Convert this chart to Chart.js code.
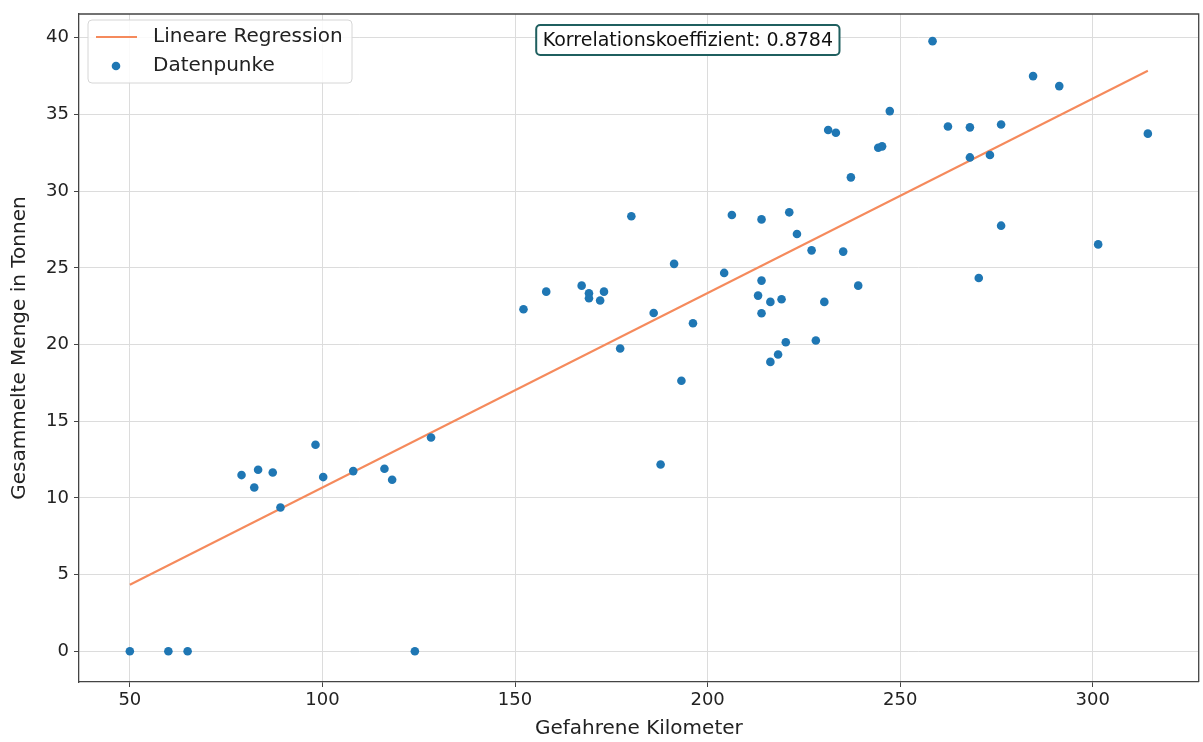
<!DOCTYPE html>
<html>
<head>
<meta charset="utf-8">
<script src="https://cdn.jsdelivr.net/npm/chart.js@4/dist/chart.umd.min.js"></script>
<style>
  html, body { margin: 0; padding: 0; background: #ffffff; }
  #wrap { width: 1203px; height: 742px; }
</style>
</head>
<body>
<div id="wrap"><canvas id="c" width="1203" height="742"></canvas></div>
<script>
// Gefahrene Kilometer (x) and Gesammelte Menge in Tonnen (y)
const kilometers = [
  50, 60, 65, 124,
  79, 82.3, 83.3, 87.1, 89.1, 98.2, 100.2, 108, 116.1, 118.1, 128.2,
  152.2, 158.1, 167.3, 169.2, 169.2, 172.1, 173.1, 177.3, 180.2, 186, 187.8,
  191.3, 193.2, 196.2, 204.3, 206.3, 214, 214, 213.1, 216.3, 219.2, 214,
  221.2, 223.2, 227, 235.2, 239.1, 230.3, 220.3, 228.1, 218.3, 216.3, 237.2,
  258.4, 284.5, 291.3, 247.3, 231.3, 233.3, 262.4, 268.1, 276.2, 314.3,
  244.3, 245.3, 268.1, 273.3, 276.2, 301.4, 270.4
];
const tonnes = [
  0, 0, 0, 0,
  11.49, 10.68, 11.84, 11.66, 9.38, 13.47, 11.36, 11.75, 11.9, 11.19, 13.94,
  22.3, 23.45, 23.84, 23.34, 23.02, 22.87, 23.45, 19.74, 28.36, 22.06, 12.18,
  25.26, 17.64, 21.39, 24.67, 28.45, 28.16, 24.17, 23.19, 22.78, 22.95, 22.04,
  28.62, 27.21, 26.14, 26.06, 23.84, 22.78, 20.15, 20.26, 19.35, 18.87, 30.9,
  39.78, 37.5, 36.85, 35.22, 33.99, 33.81, 34.22, 34.16, 34.35, 33.75,
  32.83, 32.92, 32.2, 32.36, 27.75, 26.53, 24.34
];
// Regression line endpoints
const regressionX = [50, 314.3];
const regressionY = [4.34, 37.85];

const xTicks = [50, 100, 150, 200, 250, 300];
const yTicks = [0, 5, 10, 15, 20, 25, 30, 35, 40];

const seriesLabels = ['Lineare Regression', 'Datenpunke'];
const correlationText = 'Korrelationskoeffizient: 0.8784';
const xTitle = 'Gefahrene Kilometer';
const yTitle = 'Gesammelte Menge in Tonnen';

const pointColor = '#1f77b4';
const lineColor = '#f58a5c';
const FONT = "'DejaVu Sans', sans-serif";

const pointData = kilometers.map((x, i) => ({ x: x, y: tonnes[i] }));
const lineData = regressionX.map((x, i) => ({ x: x, y: regressionY[i] }));

const overlayPlugin = {
  id: 'overlay',
  afterDraw(chart) {
    const ctx = chart.ctx;
    const a = chart.chartArea;
    ctx.save();
    // top and right spines
    ctx.strokeStyle = '#444444';
    ctx.lineWidth = 1.3;
    ctx.beginPath();
    ctx.moveTo(a.left, a.top);
    ctx.lineTo(a.right, a.top);
    ctx.lineTo(a.right, a.bottom);
    ctx.stroke();

    // legend box
    const lx = a.left + 9, ly = a.top + 6, lw = 264, lh = 63;
    ctx.beginPath();
    ctx.roundRect(lx, ly, lw, lh, 4);
    ctx.fillStyle = 'rgba(255,255,255,0.85)';
    ctx.fill();
    ctx.strokeStyle = '#d6d6d6';
    ctx.lineWidth = 1;
    ctx.stroke();
    ctx.font = '20px ' + FONT;
    ctx.textBaseline = 'middle';
    ctx.fillStyle = '#222222';
    // line entry
    ctx.strokeStyle = lineColor;
    ctx.lineWidth = 2;
    ctx.beginPath();
    ctx.moveTo(lx + 8, ly + 17);
    ctx.lineTo(lx + 49, ly + 17);
    ctx.stroke();
    ctx.fillText(seriesLabels[0], lx + 65, ly + 17);
    // point entry
    ctx.fillStyle = pointColor;
    ctx.beginPath();
    ctx.arc(lx + 28, ly + 46, 4.3, 0, Math.PI * 2);
    ctx.fill();
    ctx.fillStyle = '#222222';
    ctx.fillText(seriesLabels[1], lx + 65, ly + 46);

    // correlation box
    ctx.font = '19px ' + FONT;
    const cx = (a.left + a.right) / 2 + 49;
    const cy = a.top + 26;
    const tw = ctx.measureText(correlationText).width;
    const bw = tw + 13, bh = 30;
    ctx.beginPath();
    ctx.roundRect(cx - bw / 2, cy - bh / 2, bw, bh, 4);
    ctx.fillStyle = '#ffffff';
    ctx.fill();
    ctx.strokeStyle = '#1f5f5f';
    ctx.lineWidth = 2;
    ctx.stroke();
    ctx.fillStyle = '#111111';
    ctx.textAlign = 'center';
    ctx.textBaseline = 'middle';
    ctx.fillText(correlationText, cx, cy + 1);
    ctx.restore();
  }
};

new Chart(document.getElementById('c'), {
  type: 'scatter',
  data: {
    datasets: [
      {
        label: seriesLabels[0],
        data: lineData,
        showLine: true,
        borderColor: lineColor,
        backgroundColor: lineColor,
        borderWidth: 2,
        pointRadius: 0,
        order: 2
      },
      {
        label: seriesLabels[1],
        data: pointData,
        backgroundColor: pointColor,
        borderColor: pointColor,
        borderWidth: 0,
        pointRadius: 4.3,
        order: 1
      }
    ]
  },
  options: {
    responsive: false,
    animation: false,
    devicePixelRatio: 1,
    layout: { padding: { left: 0, top: 14, right: 4, bottom: 0 } },
    plugins: {
      legend: { display: false },
      tooltip: { enabled: false }
    },
    scales: {
      x: {
        type: 'linear',
        min: 36.8,
        max: 327.5,
        afterBuildTicks(scale) { scale.ticks = xTicks.map(v => ({ value: v })); },
        afterFit(scale) { scale.height = 60; scale.paddingLeft = 0; scale.paddingRight = 0; },
        grid: { color: '#dcdcdc', lineWidth: 1, tickColor: '#444444', tickLength: 5 },
        border: { display: true, color: '#444444', width: 1.3 },
        ticks: { color: '#222222', font: { family: FONT, size: 18 }, padding: 3, maxRotation: 0 },
        title: { display: true, text: xTitle, color: '#222222', font: { family: FONT, size: 20 }, padding: { top: 4, bottom: 1 } }
      },
      y: {
        type: 'linear',
        min: -2.0,
        max: 41.55,
        afterBuildTicks(scale) { scale.ticks = yTicks.map(v => ({ value: v })); },
        afterFit(scale) { scale.width = 79; scale.paddingTop = 0; scale.paddingBottom = 0; },
        grid: { color: '#dcdcdc', lineWidth: 1, tickColor: '#444444', tickLength: 5 },
        border: { display: true, color: '#444444', width: 1.3 },
        ticks: { color: '#222222', font: { family: FONT, size: 18 }, padding: 5 },
        title: { display: true, text: yTitle, color: '#222222', font: { family: FONT, size: 20 }, padding: { top: 8, bottom: 4 } }
      }
    }
  },
  plugins: [overlayPlugin]
});
</script>
</body>
</html>
